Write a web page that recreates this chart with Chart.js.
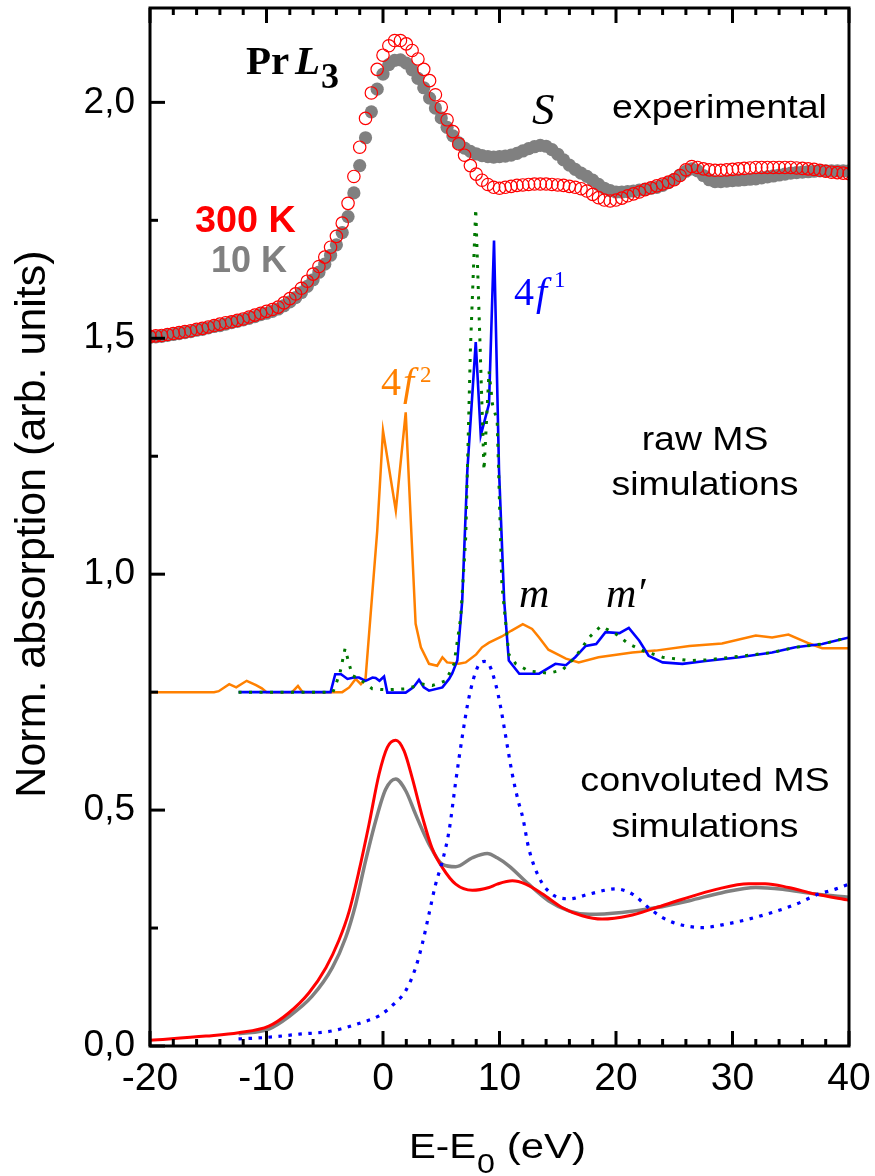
<!DOCTYPE html>
<html><head><meta charset="utf-8">
<script src="https://cdn.jsdelivr.net/npm/chart.js@4.4.0/dist/chart.umd.min.js"></script>
<style>html,body{margin:0;padding:0;background:#fff;}#wrap{width:875px;height:1176px;}</style>
</head><body><div id="wrap"><canvas id="c" width="875" height="1176"></canvas></div>
<script>
// ---------- DATA ----------
// Experimental Pr L3 XANES (energy grid, eV)
const expE = [-20,-19.5,-19,-18.5,-18,-17.5,-17,-16.5,-16,-15.5,-15,-14.5,-14,-13.5,-13,-12.5,-12,-11.5,-11,-10.5,-10,-9.5,-9,-8.5,-8,-7.5,-7,-6.5,-6,-5.5,-5,-4.5,-4,-3.5,-3,-2.5,-2,-1.5,-1,-0.5,0,0.5,1,1.5,2,2.5,3,3.5,4,4.5,5,5.5,6,6.5,7,7.5,8,8.5,9,9.5,10,10.5,11,11.5,12,12.5,13,13.5,14,14.5,15,15.5,16,16.5,17,17.5,18,18.5,19,19.5,20,20.5,21,21.5,22,22.5,23,23.5,24,24.5,25,25.5,26,26.5,27,27.5,28,28.5,29,29.5,30,30.5,31,31.5,32,32.5,33,33.5,34,34.5,35,35.5,36,36.5,37,37.5,38,38.5,39,39.5,40];
const exp300K = [
1.504,1.505,1.506,1.508,1.510,1.512,1.514,1.516,1.519,1.521,
1.524,1.527,1.530,1.533,1.535,1.538,1.541,1.545,1.549,1.553,
1.557,1.561,1.566,1.575,1.584,1.594,1.606,1.621,1.636,1.652,
1.672,1.693,1.716,1.744,1.786,1.843,1.905,1.966,2.020,2.070,
2.100,2.120,2.131,2.131,2.124,2.110,2.092,2.070,2.046,2.016,
1.990,1.963,1.938,1.912,1.888,1.866,1.848,1.835,1.826,1.820,
1.818,1.820,1.822,1.824,1.825,1.826,1.827,1.827,1.827,1.826,
1.825,1.824,1.822,1.820,1.817,1.812,1.805,1.798,1.793,1.791,
1.793,1.797,1.802,1.806,1.810,1.815,1.819,1.823,1.827,1.831,
1.836,1.845,1.857,1.864,1.862,1.859,1.857,1.856,1.856,1.857,
1.858,1.859,1.860,1.861,1.862,1.862,1.862,1.862,1.862,1.862,
1.862,1.861,1.860,1.859,1.858,1.856,1.854,1.852,1.851,1.850,
1.849];
const exp10K = [
1.502,1.503,1.504,1.506,1.508,1.510,1.512,1.514,1.517,1.519,
1.522,1.525,1.527,1.530,1.533,1.536,1.539,1.542,1.546,1.550,
1.553,1.557,1.562,1.569,1.577,1.586,1.597,1.610,1.624,1.640,
1.657,1.676,1.698,1.724,1.758,1.808,1.866,1.925,1.980,2.028,
2.060,2.080,2.089,2.090,2.083,2.069,2.051,2.031,2.009,1.988,
1.967,1.947,1.929,1.914,1.903,1.896,1.891,1.887,1.885,1.884,
1.885,1.886,1.888,1.892,1.897,1.902,1.906,1.909,1.907,1.900,
1.890,1.878,1.867,1.858,1.850,1.843,1.835,1.826,1.818,1.813,
1.810,1.810,1.811,1.812,1.814,1.816,1.818,1.820,1.824,1.830,
1.837,1.846,1.854,1.859,1.855,1.845,1.836,1.832,1.832,1.833,
1.834,1.835,1.836,1.837,1.838,1.840,1.842,1.844,1.846,1.848,
1.850,1.851,1.852,1.853,1.854,1.855,1.855,1.855,1.855,1.855,
1.855];

// Raw MS simulations
const raw4f2E = [-20,-14.5,-14.1,-13.2,-12.6,-11.7,-10.9,-10.4,-10.0,-7.8,-7.3,-6.9,-3.5,-2.9,-2.35,-1.9,-1.5,-0.5,0.0,1.1,1.95,2.8,3.25,3.95,4.65,5.1,5.5,6.5,7.1,8.0,8.5,9.1,10.2,11.0,12.0,12.8,13.4,14.2,15.7,16.8,18.5,21.4,23.4,26.3,29.1,32.0,33.4,34.8,36.6,37.7,40.0];
const raw4f2 = [0.750,0.750,0.752,0.767,0.760,0.774,0.765,0.758,0.750,0.750,0.763,0.750,0.750,0.760,0.778,0.767,0.778,1.090,1.304,1.135,1.343,0.895,0.845,0.810,0.806,0.824,0.813,0.810,0.813,0.830,0.845,0.855,0.868,0.880,0.894,0.884,0.866,0.840,0.821,0.813,0.824,0.834,0.838,0.848,0.853,0.870,0.866,0.872,0.853,0.843,0.843];
const raw4f1E = [-12.4,-4.5,-4.1,-3.6,-3.05,-2.5,-2.06,-1.5,-0.9,-0.63,-0.3,0.09,0.37,1.95,2.6,3.09,3.5,3.95,5.1,5.67,5.95,6.38,6.8,7.24,7.96,8.39,9.1,9.53,9.96,10.4,10.8,11.7,13.4,14.8,15.7,16.5,17.4,18.3,19.1,20.3,21.1,22.0,22.8,24.0,25.7,27.7,30.6,33.4,35.4,37.7,40.0];
const raw4f1 = [0.750,0.750,0.788,0.788,0.778,0.781,0.781,0.774,0.781,0.780,0.774,0.783,0.749,0.749,0.760,0.776,0.760,0.753,0.760,0.778,0.790,0.817,0.944,1.220,1.492,1.294,1.361,1.707,1.220,0.944,0.817,0.789,0.789,0.810,0.807,0.824,0.848,0.852,0.877,0.875,0.886,0.859,0.827,0.813,0.810,0.816,0.824,0.834,0.845,0.852,0.866];
const rawAltE = [-12.4,-4.3,-3.7,-3.26,-2.63,-2.06,-0.92,0.23,1.95,3.4,4.24,5.38,6.1,6.67,7.1,7.5,7.96,8.67,9.1,9.4,9.8,10.2,10.8,11.4,12.5,14.2,15.4,16.5,17.7,18.7,20.0,21.1,22.3,24.0,26.3,27.7,30.6,33.4,35.4,37.7,40.0];
const rawAlt = [0.750,0.750,0.790,0.842,0.785,0.779,0.757,0.755,0.757,0.767,0.764,0.774,0.810,0.908,1.078,1.474,1.775,1.220,1.430,1.360,1.325,0.980,0.830,0.810,0.795,0.790,0.797,0.824,0.866,0.890,0.873,0.852,0.838,0.824,0.817,0.818,0.826,0.834,0.845,0.852,0.866];

// Convoluted MS simulations
const conv300E = [-20,-15.2,-12.4,-9.8,-8.1,-6.35,-4.9,-3.8,-2.9,-2.06,-1.2,-0.34,0.37,1.09,1.8,2.5,3.4,4.2,5.1,6.24,7.67,9.1,9.8,11.1,12.25,13.7,15.4,17.1,18.8,21.1,23.4,25.7,28.6,31.4,32.8,34.8,37.1,40.0];
const conv300 = [0.012,0.021,0.028,0.042,0.070,0.113,0.166,0.223,0.286,0.371,0.470,0.576,0.633,0.648,0.626,0.569,0.484,0.420,0.378,0.343,0.330,0.336,0.343,0.350,0.343,0.322,0.293,0.276,0.269,0.276,0.293,0.311,0.332,0.344,0.344,0.336,0.322,0.309];
const conv10E = [-12.4,-9.8,-8.1,-6.1,-4.35,-3.2,-2.35,-1.5,-0.63,0.23,1.09,1.95,2.8,3.95,5.1,6.24,7.67,8.95,9.8,10.8,12.5,14.2,16.0,17.7,20.5,23.4,26.3,29.1,32.0,34.3,37.1,40.0];
const conv10 = [0.026,0.036,0.062,0.105,0.166,0.230,0.300,0.392,0.477,0.544,0.566,0.541,0.491,0.428,0.385,0.380,0.399,0.408,0.399,0.382,0.343,0.308,0.286,0.279,0.283,0.293,0.308,0.325,0.336,0.332,0.322,0.315];
const convF1E = [-12.4,-10.1,-7.2,-4.35,-1.8,-0.34,0.94,1.95,2.8,3.37,3.95,4.52,5.1,5.67,6.24,6.8,7.38,8.1,8.7,9.1,9.67,10.1,10.5,11.1,11.6,12.0,12.5,13.4,14.5,16.0,17.7,20.0,21.4,22.8,24.0,25.4,27.4,29.4,31.4,33.4,35.4,37.4,38.9,40.0];
const convF1 = [0.015,0.018,0.025,0.032,0.050,0.064,0.089,0.117,0.166,0.216,0.280,0.343,0.392,0.456,0.560,0.655,0.739,0.802,0.815,0.809,0.767,0.718,0.661,0.576,0.520,0.484,0.420,0.357,0.322,0.312,0.322,0.333,0.322,0.293,0.272,0.258,0.251,0.258,0.269,0.283,0.300,0.322,0.333,0.343];

// Axis ticks
const xTickStep = 10, xMinorStep = 2;
const yTickStep = 0.5, yMinorStep = 0.25;

// ---------- CHART ----------
const SANS = "'Liberation Sans', Arial, sans-serif";
const SERIF = "'Liberation Serif', 'Times New Roman', serif";
const mk = (xs, ys) => xs.map((x, i) => ({x: x, y: ys[i]}));
const lineDs = (label, xs, ys, color, w, extra) => Object.assign({
  label, data: mk(xs, ys), showLine: true, borderColor: color, backgroundColor: color,
  borderWidth: w, pointRadius: 0, tension: 0, fill: false
}, extra || {});

function txt(ctx, s, x, y, font, color, sx, align) {
  ctx.save();
  ctx.font = font; ctx.fillStyle = color || '#000';
  ctx.textBaseline = 'alphabetic'; ctx.textAlign = align || 'left';
  ctx.translate(x, y); ctx.scale(sx || 1, 1);
  ctx.fillText(s, 0, 0);
  const w = ctx.measureText(s).width * (sx || 1);
  ctx.restore();
  return w;
}

const decor = {
  id: 'decor',
  afterDraw(chart) {
    const ctx = chart.ctx, ca = chart.chartArea, xs = chart.scales.x, ys = chart.scales.y;
    ctx.save();
    ctx.strokeStyle = '#000'; ctx.lineWidth = 3; ctx.lineCap = 'butt';
    ctx.strokeRect(ca.left, ca.top, ca.right - ca.left, ca.bottom - ca.top);
    const ln = (a, b, c, d) => { ctx.beginPath(); ctx.moveTo(a, b); ctx.lineTo(c, d); ctx.stroke(); };
    for (let v = xs.min; v <= xs.max + 1e-9; v += xMinorStep) {
      const px = xs.getPixelForValue(v);
      const major = Math.abs(v / xTickStep - Math.round(v / xTickStep)) < 1e-6;
      const L = major ? 15 : 7;
      ln(px, ca.bottom, px, ca.bottom - L);
      ln(px, ca.top, px, ca.top + L);
    }
    for (let v = 0; v <= 2.0 + 1e-9; v += yMinorStep) {
      const py = ys.getPixelForValue(v);
      const major = Math.abs(v / yTickStep - Math.round(v / yTickStep)) < 1e-6;
      ln(ca.left, py, ca.left + (major ? 15 : 8), py);
    }
    ctx.restore();

    // Axis titles
    ctx.save();
    ctx.translate(45, 524); ctx.rotate(-Math.PI / 2);
    ctx.font = `43px ${SANS}`; ctx.fillStyle = '#000'; ctx.textAlign = 'center'; ctx.textBaseline = 'alphabetic';
    ctx.fillText('Norm. absorption (arb. units)', 0, 0);
    ctx.restore();
    let cx = 409;
    cx += txt(ctx, 'E-E', cx, 1158, `35px ${SANS}`, '#000', 1.15);
    cx += txt(ctx, '0', cx + 1, 1173, `28px ${SANS}`, '#000', 1.15);
    txt(ctx, ' (eV)', cx + 1, 1158, `35px ${SANS}`, '#000', 1.2);

    // Annotations
    txt(ctx, 'Pr', 246, 74, `bold 41px ${SERIF}`, '#000');
    txt(ctx, 'L', 295, 74, `italic bold 41px ${SERIF}`, '#000');
    txt(ctx, '3', 321, 88, `bold 36px ${SERIF}`, '#000');
    txt(ctx, '300 K', 195, 232, `bold 36px ${SANS}`, '#ff0000', 1.05);
    txt(ctx, '10 K', 211, 272, `bold 36px ${SANS}`, '#808080', 1.0);
    txt(ctx, 'S', 532, 124, `italic 45px ${SERIF}`, '#000');
    txt(ctx, 'experimental', 612, 118, `32.5px ${SANS}`, '#000', 1.155);
    txt(ctx, 'raw MS', 705, 450, `32.5px ${SANS}`, '#000', 1.15, 'center');
    txt(ctx, 'simulations', 705, 495, `32.5px ${SANS}`, '#000', 1.15, 'center');
    txt(ctx, 'convoluted MS', 705, 791, `32.5px ${SANS}`, '#000', 1.16, 'center');
    txt(ctx, 'simulations', 705, 837, `32.5px ${SANS}`, '#000', 1.15, 'center');
    txt(ctx, 'm', 519, 607, `italic 42px ${SERIF}`, '#000');
    txt(ctx, 'm\u2032', 606, 607, `italic 42px ${SERIF}`, '#000');
    txt(ctx, '4', 514, 305, `40px ${SERIF}`, '#0000ff');
    txt(ctx, 'f', 536, 305, `italic 40px ${SERIF}`, '#0000ff');
    txt(ctx, '1', 554, 287, `23px ${SERIF}`, '#0000ff');
    txt(ctx, '4', 381, 395, `40px ${SERIF}`, '#ff8000');
    txt(ctx, 'f', 403, 395, `italic 40px ${SERIF}`, '#ff8000');
    txt(ctx, '2', 420, 382, `23px ${SERIF}`, '#ff8000');
  }
};

Chart.defaults.color = '#000';
new Chart(document.getElementById('c'), {
  type: 'scatter',
  data: {
    datasets: [
      {label: '300 K', data: mk(expE, exp300K), showLine: false, pointStyle: 'circle', pointRadius: 6.2,
       borderColor: '#ff0000', backgroundColor: 'rgba(255,255,255,0)', borderWidth: 1.2, order: 0},
      {label: '10 K', data: mk(expE, exp10K), showLine: false, pointStyle: 'circle', pointRadius: 6.6,
       borderColor: '#808080', backgroundColor: '#808080', borderWidth: 0, order: 1},
      lineDs('conv 4f1', convF1E, convF1, '#0000ff', 3.2, {borderDash: [3.5, 6.5], cubicInterpolationMode: 'monotone', order: 2}),
      lineDs('conv 300 K', conv300E, conv300, '#ff0000', 3, {cubicInterpolationMode: 'monotone', order: 3}),
      lineDs('conv 10 K', conv10E, conv10, '#808080', 3.5, {cubicInterpolationMode: 'monotone', order: 4}),
      lineDs('raw alt', rawAltE, rawAlt, '#007800', 3, {borderDash: [3, 7.5], order: 5}),
      lineDs('raw 4f1', raw4f1E, raw4f1, '#0000ff', 2.6, {order: 6}),
      lineDs('raw 4f2', raw4f2E, raw4f2, '#ff8000', 2.5, {order: 7})
    ]
  },
  options: {
    responsive: false, animation: false, devicePixelRatio: 1,
    layout: {padding: {top: 8, right: 26, left: 0, bottom: 0}},
    plugins: {legend: {display: false}, tooltip: {enabled: false}},
    scales: {
      x: {
        type: 'linear', position: 'bottom', min: -20, max: 40,
        grid: {display: false, drawTicks: false}, border: {display: false},
        ticks: {stepSize: xTickStep, autoSkip: false, maxRotation: 0, padding: 10,
                font: {family: SANS, size: 39}, color: '#000'},
        afterFit(s) { s.height = 130; s.paddingLeft = 0; s.paddingRight = 0; }
      },
      y: {
        type: 'linear', position: 'left', min: 0, max: 2.2,
        grid: {display: false, drawTicks: false}, border: {display: false},
        ticks: {stepSize: yTickStep, includeBounds: false, padding: 15,
                font: {family: SANS, size: 37}, color: '#000',
                callback: v => v.toFixed(1).replace('.', ',')},
        afterFit(s) { s.width = 150; s.paddingTop = 0; s.paddingBottom = 0; }
      }
    }
  },
  plugins: [decor]
});
</script></body></html>
